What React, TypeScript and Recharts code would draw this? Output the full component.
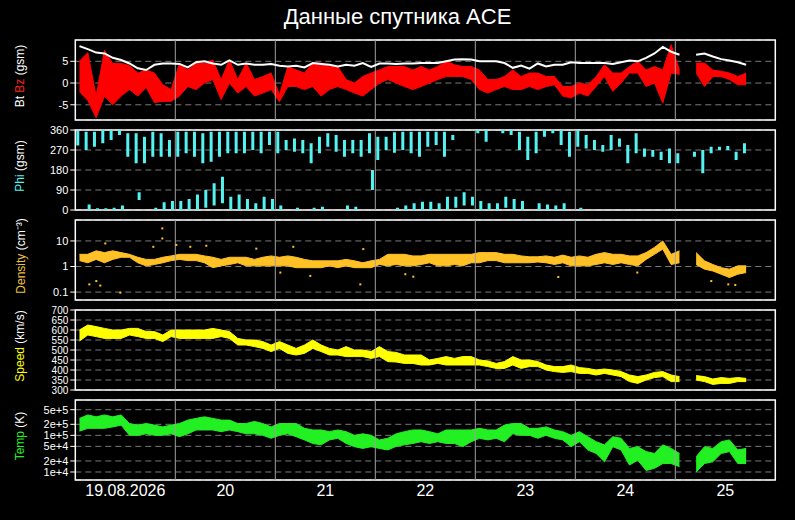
import React from 'react'
import {
  ComposedChart, Area, Line, Bar, Scatter, XAxis, YAxis, CartesianGrid,
  ReferenceLine, ReferenceArea,
} from 'recharts'

document.body.style.margin = '0'
document.body.style.background = '#000'

const FONT = '"Liberation Sans", Arial, sans-serif'

// day labels, centred on each day of the 7-day window
const dayLabels = ['19.08.2026', '20', '21', '22', '23', '24', '25']
const dayTicks = [0.5, 1.5, 2.5, 3.5, 4.5, 5.5, 6.5]
const dayBounds = [1, 2, 3, 4, 5, 6]

// values read per 2-hour bin (84 bins over 7 days), null = no data
const bt = [
  8.5, 7.8, 7.0, 6.8, 5.8, 5.3, 4.5, 3.4, 3.0, 4.2, 4.5, 4.5,
  4.4, 3.6, 4.8, 5.0, 4.5, 4.2, 5.2, 4.2, 4.5, 4.2, 4.2, 4.4,
  4.0, 3.8, 4.0, 3.6, 4.6, 4.4, 4.2, 3.8, 4.2, 4.0, 4.6, 3.7,
  4.5, 4.5, 4.4, 4.5, 4.5, 4.6, 4.6, 4.6, 5.0, 5.4, 5.5, 5.4,
  5.0, 5.0, 5.0, 4.6, 3.5, 4.0, 3.3, 4.5, 3.8, 4.2, 4.2, 4.8,
  4.6, 4.6, 4.6, 4.6, 4.4, 4.8, 5.2, 5.0, 5.8, 6.8, 8.3, 7.2,
  6.5, null, 6.5, 6.8, 6.1, 5.5, 5.2, 4.8, 4.2, null, null, null,
]
const bzLow = [
  -2, -4, -8, -3, -5, -3, -1.5, -3, -1, -4.5, -4.2, -4.2,
  -3, -0.8, -1.5, 0, 0.8, -3.8, 0, -2.3, -0.8, -3, -2.3, -1.5,
  -4.3, -0.8, -0.8, -1.5, -0.8, -3, -1.5, -0.8, -1.5, -2.3, -3, -1.5,
  0, 0.8, 0, -0.8, -1.5, -0.8, 0, 0.8, 1.5, 1.5, 1.5, 0.8,
  -1.5, -2.3, -1.5, -0.8, -1.5, -1.5, -0.8, -1.5, -0.8, -0.4, -3, -3.4,
  -2.3, -3, -0.8, 1.5, -1.9, 0, 2.3, 2.3, -0.8, 0, -4.6, 2.3,
  2, null, 2.3, -0.8, 1.5, 1.5, 0.8, -0.4, -0.4, null, null, null,
]
const bzHigh = [
  5, 7, -3, 7.5, 4.5, 4.5, 4, 2.3, 3, 2.3, -0.4, -1.5,
  4.5, 3, 4.5, 4.5, 5.3, 0.8, 5.3, 0.8, 4.6, 0.8, 1.5, 2.3,
  -2.7, 3.8, 3, 2.3, 4.6, 4.6, 3.8, 3.8, 0.8, 0, 1.5, 2.3,
  3, 3.8, 3.8, 3.8, 3, 3.8, 3, 3.8, 5, 4.2, 3.8, 3.8,
  3, 0.8, 0.8, 1.5, 3, 1.5, 2.3, 2.3, 1.5, 1.5, -0.8, -0.8,
  0, -0.4, 1.5, 4.2, 2.3, 2.3, 3.8, 5, 3, 3.8, 3, 8.8,
  3, null, 4.6, 4.6, 3, 2.7, 2.3, 1.5, 2.3, null, null, null,
]
const phiUpLow = [
  290, 270, 285, 300, 315, 338, 240, 210, 210, 240, 240, 240,
  240, 255, 240, 210, 217, 240, 255, 255, 255, 270, 255, 292,
  255, 270, 262, 255, 210, 255, 285, 262, 240, 255, 240, 255,
  225, 270, 258, 270, 255, 240, 285, 292, 240, 315, null, null,
  345, 307, null, 345, 337, 270, 225, 255, 330, 345, 292, 240,
  285, 277, 270, 262, 270, 285, 210, 255, 240, 240, 225, 210,
  210, null, 240, 165, 255, 270, 270, 225, 255, null, null, null,
]
const phiUpHigh = [
  355, 352, 352, 360, 360, 360, 345, 345, 330, 352, 345, 315,
  352, 352, 352, 345, 352, 352, 352, 352, 352, 352, 352, 352,
  352, 315, 322, 315, 300, 330, 345, 337, 315, 315, 315, 345,
  330, 330, 350, 352, 352, 352, 352, 352, 352, 337, null, null,
  360, 360, null, 360, 360, 352, 330, 352, 360, 360, 360, 352,
  360, 337, 315, 292, 337, 322, 292, 345, 277, 270, 262, 277,
  255, null, 262, 270, 285, 285, 288, 262, 300, null, null, null,
]
const phiDnLow = [
  null, 0, 0, 0, 0, 0, null, 45, null, 0, 0, 0,
  0, 0, 0, 10, 20, 30, 0, 0, 0, 0, 0, 0,
  0, null, 0, null, 0, 0, null, null, 0, 0, null, 90,
  null, null, 0, 0, 0, 0, 0, 0, 0, 10, 20, 20,
  0, 0, 0, 10, 0, 0, null, 0, 0, 0, 0, null,
  0, null, null, null, null, null, null, null, null, null, null, null,
  null, null, null, null, null, null, null, null, null, null, null, null,
]
const phiDnHigh = [
  null, 25, 8, 8, 10, 20, null, 80, null, 10, 35, 40,
  40, 50, 70, 90, 120, 150, 60, 70, 50, 30, 60, 50,
  20, null, 10, null, 10, 15, null, null, 20, 15, null, 180,
  null, null, 10, 20, 30, 37, 37, 30, 60, 60, 80, 60,
  40, 30, 30, 60, 50, 40, null, 30, 25, 20, 30, null,
  10, null, null, null, null, null, null, null, null, null, null, null,
  null, null, null, null, null, null, null, null, null, null, null, null,
]
const denLow = [
  1.7, 1.4, 1.9, 1.4, 1.9, 2.3, 2.3, 1.4, 1.06, 1.2, 1.4, 1.7,
  1.9, 1.7, 1.7, 1.4, 0.9, 1.06, 1.2, 1.4, 1.06, 1.06, 1.06, 1.06,
  1.06, 1.06, 0.9, 0.9, 0.9, 0.9, 1.06, 0.9, 1.06, 0.9, 0.9, 0.9,
  1.2, 1.06, 1.2, 1.06, 1.06, 1.2, 1.4, 1.06, 1.06, 1.2, 1.06, 1.4,
  1.4, 1.7, 1.7, 1.4, 1.4, 1.4, 1.4, 1.5, 1.4, 1.2, 1.4, 1.06,
  1.06, 1.06, 1.2, 1.4, 1.2, 1.4, 1.2, 1.06, 1.9, 3.0, 4.8, 1.2,
  1.4, null, 1.2, 0.79, 0.67, 0.5, 0.37, 0.5, 0.58, null, null, null,
]
const denHigh = [
  3.0, 3.0, 4.1, 3.5, 4.1, 3.5, 3.0, 2.3, 1.9, 1.9, 2.3, 2.6,
  3.0, 3.0, 3.0, 2.6, 2.3, 1.9, 2.3, 2.3, 2.3, 1.9, 2.3, 2.6,
  2.3, 2.6, 2.3, 1.9, 1.67, 1.67, 1.67, 1.67, 1.9, 1.67, 1.4, 1.67,
  1.9, 3.0, 3.0, 3.0, 2.6, 2.6, 3.0, 3.0, 3.0, 3.0, 3.0, 3.0,
  3.5, 3.5, 3.5, 3.0, 3.0, 2.6, 2.4, 2.4, 2.6, 2.3, 2.8, 2.3,
  2.6, 2.3, 3.0, 3.5, 3.0, 3.0, 2.6, 2.6, 3.5, 5.6, 10, 3.0,
  4.1, null, 3.5, 1.67, 1.2, 0.9, 0.79, 1.06, 1.06, null, null, null,
]
// scattered density points away from the main band: [day, value]
const denStray = [
  [0.14, 0.2], [0.21, 0.27], [0.25, 0.18], [0.3, 8], [0.45, 0.095],
  [0.78, 5.9], [0.87, 31], [0.87, 12.5], [1.01, 7], [1.15, 5.9],
  [1.31, 6.5], [1.81, 5], [2.05, 0.58], [2.18, 5.9], [2.35, 0.43],
  [2.85, 0.2], [2.88, 4.8], [3.3, 0.5], [3.38, 0.4], [4.83, 0.39],
  [5.62, 0.58], [6.36, 0.27], [6.53, 0.2], [6.6, 0.19],
]
const spdLow = [
  545, 575, 567, 558, 558, 558, 575, 567, 558, 558, 542, 567,
  558, 558, 558, 558, 558, 567, 558, 525, 525, 517, 508, 492,
  508, 483, 475, 483, 508, 492, 475, 475, 467, 467, 467, 458,
  467, 442, 440, 433, 433, 425, 425, 433, 425, 425, 425, 425,
  425, 417, 408, 408, 425, 408, 417, 417, 400, 392, 388, 392,
  383, 383, 375, 383, 375, 367, 342, 333, 350, 362, 367, 342,
  342, null, 350, 342, 328, 333, 333, 342, 342, null, null, null,
]
const spdHigh = [
  600, 625, 617, 608, 600, 600, 608, 608, 592, 592, 575, 600,
  600, 600, 600, 600, 608, 600, 592, 558, 550, 550, 542, 525,
  542, 525, 508, 525, 550, 525, 508, 500, 517, 500, 500, 492,
  517, 492, 488, 475, 475, 475, 450, 458, 467, 458, 467, 467,
  450, 445, 433, 442, 467, 450, 450, 442, 425, 417, 417, 425,
  412, 408, 400, 405, 400, 392, 375, 367, 375, 388, 392, 375,
  367, null, 372, 367, 355, 362, 358, 362, 358, null, null, null,
]
const tmpLow = [
  1.3e5, 1.55e5, 1.55e5, 1.55e5, 1.7e5, 1.9e5, 1.0e5, 1.0e5, 1.1e5, 1.0e5, 1.0e5, 1.1e5,
  9.2e4, 1.1e5, 1.4e5, 1.4e5, 1.4e5, 1.26e5, 1.4e5, 1.26e5, 1.1e5, 1.1e5, 1.0e5, 8.3e4,
  1.0e5, 1.1e5, 9.2e4, 7.5e4, 6e4, 5.5e4, 7.5e4, 8.3e4, 6e4, 4.9e4, 4.4e4, 4.9e4,
  4.4e4, 4e4, 5e4, 5.5e4, 6e4, 6.7e4, 6e4, 6.7e4, 6e4, 6e4, 4.9e4, 6.7e4,
  8.3e4, 7.5e4, 8.3e4, 6.7e4, 1.1e5, 1.0e5, 1.0e5, 8.3e4, 1.0e5, 8.3e4, 7.5e4, 4.9e4,
  6.7e4, 4e4, 3.2e4, 1.9e4, 4.9e4, 4e4, 1.55e4, 2.1e4, 1.1e4, 1.26e4, 1.7e4, 1.7e4,
  1.4e4, null, 1.0e4, 1.7e4, 1.9e4, 3.2e4, 3.6e4, 1.7e4, 1.7e4, null, null, null,
]
const tmpHigh = [
  2.9e5, 3.6e5, 3.2e5, 3.6e5, 3.2e5, 3.6e5, 2.1e5, 1.9e5, 2.1e5, 1.9e5, 1.7e5, 1.9e5,
  2.1e5, 2.6e5, 2.9e5, 3.2e5, 2.9e5, 2.6e5, 2.6e5, 2.1e5, 2.1e5, 2.4e5, 2.1e5, 1.7e5,
  2.1e5, 2.1e5, 2.1e5, 1.55e5, 1.4e5, 1.4e5, 1.26e5, 1.4e5, 1.26e5, 1.0e5, 1.1e5, 1.0e5,
  7.5e4, 8.3e4, 1.1e5, 1.26e5, 1.4e5, 1.4e5, 1.26e5, 1.1e5, 1.4e5, 1.4e5, 1.4e5, 1.4e5,
  1.55e5, 1.4e5, 1.4e5, 1.9e5, 2.1e5, 2.1e5, 1.55e5, 1.55e5, 1.7e5, 1.4e5, 1.26e5, 1.0e5,
  1.26e5, 9.2e4, 6.7e4, 5.5e4, 9.2e4, 8.3e4, 4.4e4, 4.9e4, 3.6e4, 3.2e4, 5.5e4, 4.4e4,
  3.2e4, null, 2.6e4, 4.9e4, 4.4e4, 6.7e4, 7.5e4, 4e4, 4.4e4, null, null, null,
]

const pair = (lo, hi) => (lo == null || hi == null ? null : [lo, hi])

const rows = bt.map((b, k) => ({
  t: (k + 0.5) / 12,
  bt: b,
  bz: pair(bzLow[k], bzHigh[k]),
  phiUp: pair(phiUpLow[k], phiUpHigh[k]),
  phiDn: pair(phiDnLow[k], phiDnHigh[k]),
  den: pair(denLow[k], denHigh[k]),
  spd: pair(spdLow[k], spdHigh[k]),
  tmp: pair(tmpLow[k], tmpHigh[k]),
}))
const strayRows = denStray.map(([t, v]) => ({ t, v }))

const W = 795
const PLOT_L = 75.3
const PLOT_R = 775.3
const YW = 40
const PAD = 5

const tickStyle = { fill: '#fff', fontSize: 11, fontFamily: FONT }

function panel(top, domain, yProps, series, showX = false) {
  return (
    <div style={{ position: 'absolute', left: 0, top: top - PAD }}>
      <ComposedChart
        width={W}
        height={showX ? 80 + PAD * 2 + 25 : 80 + PAD * 2}
        data={rows}
        margin={{ top: PAD, right: W - PLOT_R, bottom: PAD, left: PLOT_L - YW }}
      >
        <CartesianGrid vertical={false} stroke="#7a7a7a" strokeDasharray="6 4" />
        <XAxis
          type="number"
          dataKey="t"
          domain={[0, 7]}
          allowDataOverflow
          hide={!showX}
          ticks={dayTicks}
          interval={0}
          tickFormatter={(v) => dayLabels[Math.round(v - 0.5)]}
          axisLine={false}
          tickLine={false}
          tickSize={0}
          tickMargin={5}
          height={25}
          tick={{ fill: '#fff', fontSize: 16, fontFamily: FONT }}
        />
        <YAxis
          width={YW}
          domain={domain}
          allowDataOverflow
          axisLine={false}
          tickLine={{ stroke: '#fff' }}
          tickSize={5}
          tickMargin={2}
          interval={0}
          tick={tickStyle}
          {...yProps}
        />
        {dayBounds.map((d) => (
          <ReferenceLine key={d} x={d} stroke="#a0a0a0" strokeWidth={1} />
        ))}
        {series}
        <ReferenceArea
          x1={0}
          x2={7}
          y1={domain[0]}
          y2={domain[1]}
          fill="none"
          stroke="#fff"
          strokeWidth={1.5}
          ifOverflow="extendDomain"
        />
      </ComposedChart>
    </div>
  )
}

function YLabel({ y, parts }) {
  return (
    <div
      style={{
        position: 'absolute',
        left: 20,
        top: y,
        transform: 'translate(-50%, -50%) rotate(-90deg)',
        whiteSpace: 'nowrap',
        fontSize: 12,
        fontFamily: FONT,
      }}
    >
      {parts.map(([txt, col], i) => (
        <span key={i} style={{ color: col }}>{txt}</span>
      ))}
    </div>
  )
}

const tempTicks = [1e4, 2e4, 5e4, 1e5, 2e5, 5e5]
const tempFmt = (v) => {
  const e = Math.floor(Math.log10(v) + 1e-9)
  const m = Math.round(v / Math.pow(10, e))
  return `${m}e+${e}`
}

export default function App() {
  return (
    <div style={{ position: 'relative', width: W, height: 520, background: '#000', overflow: 'hidden' }}>
      <div
        style={{
          position: 'absolute', top: 4, left: 0, width: W, textAlign: 'center',
          color: '#fff', fontSize: 22, fontFamily: FONT,
        }}
      >
        Данные спутника ACE
      </div>

      {panel(40.3, [-8.5, 9.9], { ticks: [-5, 0, 5] }, [
        <Area key="bz" dataKey="bz" type="linear" fill="#ff0000" fillOpacity={1} stroke="#ff0000" strokeWidth={1} isAnimationActive={false} connectNulls={false} />,
        <Line key="bt" dataKey="bt" type="linear" stroke="#ffffff" strokeWidth={2} dot={false} isAnimationActive={false} connectNulls={false} />,
      ])}

      {panel(130.3, [0, 360], { ticks: [0, 90, 180, 270, 360] }, [
        <Bar key="pu" dataKey="phiUp" fill="#55f2f2" barSize={3} isAnimationActive={false} />,
        <Bar key="pd" dataKey="phiDn" fill="#55f2f2" barSize={3} isAnimationActive={false} />,
      ])}

      {panel(220.3, [0.049, 66], { scale: 'log', ticks: [0.1, 1, 10], tickFormatter: (v) => String(v) }, [
        <Area key="den" dataKey="den" type="linear" fill="#ffc125" fillOpacity={1} stroke="#ffc125" strokeWidth={1} isAnimationActive={false} connectNulls={false} />,
        <Scatter
          key="stray"
          data={strayRows}
          dataKey="v"
          fill="#ffc125"
          isAnimationActive={false}
          shape={(p) => <rect x={p.cx - 1} y={p.cy - 1} width={2} height={2} fill="#ffc125" />}
        />,
      ])}

      {panel(310.3, [300, 700], {
        ticks: [300, 350, 400, 450, 500, 550, 600, 650, 700],
        tick: { ...tickStyle, fontSize: 10 },
      }, [
        <Area key="spd" dataKey="spd" type="linear" fill="#ffff00" fillOpacity={1} stroke="#ffff00" strokeWidth={1} isAnimationActive={false} connectNulls={false} />,
      ])}

      {panel(400.3, [6.05e3, 9.2e5], { scale: 'log', ticks: tempTicks, tickFormatter: tempFmt }, [
        <Area key="tmp" dataKey="tmp" type="linear" fill="#22f022" fillOpacity={1} stroke="#22f022" strokeWidth={1} isAnimationActive={false} connectNulls={false} />,
      ], true)}

      <YLabel y={76} parts={[['Bt ', '#fff'], ['Bz', '#ff2020'], [' (gsm)', '#fff']]} />
      <YLabel y={166} parts={[['Phi', '#55f2f2'], [' (gsm)', '#fff']]} />
      <YLabel y={256} parts={[['Density', '#f0c040'], [' (cm⁻³)', '#fff']]} />
      <YLabel y={346} parts={[['Speed', '#ffff00'], [' (km/s)', '#fff']]} />
      <YLabel y={436} parts={[['Temp', '#22f022'], [' (K)', '#fff']]} />
    </div>
  )
}
